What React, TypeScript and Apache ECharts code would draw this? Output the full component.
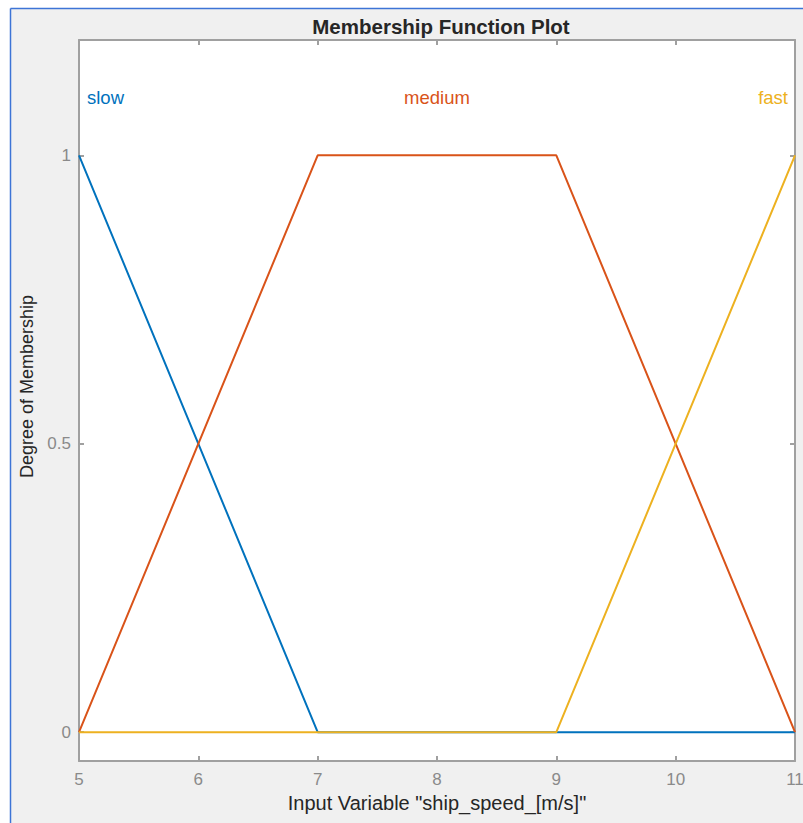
import React, { useEffect, useRef } from "react";
import * as echarts from "echarts";

const xTicks = [5, 6, 7, 8, 9, 10, 11];
const yTicks = [0, 0.5, 1];
const mfNames = ["slow", "medium", "fast"];
const slowPts = [[5, 1], [7, 0], [11, 0]];
const mediumPts = [[5, 0], [7, 1], [9, 1], [11, 0]];
const fastPts = [[5, 0], [9, 0], [11, 1]];
const labelPos = [[5, 1.1], [8, 1.1], [11, 1.1]];
const colors = ["#0072BD", "#D95319", "#EDB120"];

export default function App() {
  const ref = useRef<HTMLDivElement>(null);
  useEffect(() => {
    const chart = echarts.init(ref.current!, null, { renderer: "svg" });
    const font = "Liberation Sans, Arial, sans-serif";
    const axisColor = "#a0a0a0";
    const labelAligns = ["left", "center", "right"];
    const labelOffsets = [[8, 0], [0, 0], [-7, 0]];
    const seriesData = [slowPts, mediumPts, fastPts];
    const option: any = {
      animation: false,
      backgroundColor: "#f0f0f0",
      textStyle: { fontFamily: font },
      title: {
        text: "Membership Function Plot",
        left: 436,
        top: 11,
        textAlign: "center",
        textStyle: { fontSize: 20.5, fontWeight: "bold", color: "#262626", fontFamily: font },
      },
      graphic: [
        { type: "rect", shape: { x: 0, y: 0, width: 10, height: 823 }, style: { fill: "#ffffff" }, z: 100 },
        { type: "rect", shape: { x: 0, y: 0, width: 803, height: 8 }, style: { fill: "#ffffff" }, z: 100 },
        { type: "line", shape: { x1: 10.5, y1: 8.5, x2: 10.5, y2: 823 }, style: { stroke: "#3d74d6", lineWidth: 1.5 }, z: 101 },
        { type: "line", shape: { x1: 10.5, y1: 8.5, x2: 803, y2: 8.5 }, style: { stroke: "#3d74d6", lineWidth: 1.5 }, z: 101 },
      ],
      grid: {
        left: 79,
        top: 40,
        right: 8,
        bottom: 62,
        show: true,
        backgroundColor: "#ffffff",
        borderWidth: 0,
        containLabel: false,
        outerBoundsMode: "none",
      },
      xAxis: [
        {
          type: "value",
          min: 5,
          max: 11,
          interval: 1,
          position: "bottom",
          name: 'Input Variable "ship_speed_[m/s]"',
          nameLocation: "middle",
          nameGap: 32,
          nameTextStyle: { fontSize: 20, color: "#262626", fontFamily: font },
          axisLine: { show: true, onZero: false, lineStyle: { color: axisColor, width: 2 } },
          axisTick: { show: true, inside: true, length: 5, lineStyle: { color: axisColor, width: 2 } },
          axisLabel: { color: "#8a8a8a", fontSize: 17, margin: 10, fontFamily: font, hideOverlap: false },
          splitLine: { show: false },
        },
        {
          type: "value",
          min: 5,
          max: 11,
          interval: 1,
          position: "top",
          axisLine: { show: true, onZero: false, lineStyle: { color: axisColor, width: 2 } },
          axisTick: { show: true, inside: true, length: 5, lineStyle: { color: axisColor, width: 2 } },
          axisLabel: { show: false },
          splitLine: { show: false },
        },
      ],
      yAxis: [
        {
          type: "value",
          min: -0.05,
          max: 1.2,
          position: "left",
          name: "Degree of Membership",
          nameLocation: "middle",
          nameGap: 39,
          nameTextStyle: { fontSize: 18, color: "#262626", fontFamily: font, padding: [0, 0, 0, 28] },
          axisLine: { show: true, onZero: false, lineStyle: { color: axisColor, width: 2 } },
          axisTick: { show: true, inside: true, length: 5, customValues: yTicks, lineStyle: { color: axisColor, width: 2 } },
          axisLabel: { color: "#8a8a8a", fontSize: 17, margin: 8, customValues: yTicks, fontFamily: font },
          splitLine: { show: false },
        },
        {
          type: "value",
          min: -0.05,
          max: 1.2,
          position: "right",
          axisLine: { show: true, onZero: false, lineStyle: { color: axisColor, width: 2 } },
          axisTick: { show: true, inside: true, length: 5, customValues: yTicks, lineStyle: { color: axisColor, width: 2 } },
          axisLabel: { show: false },
          splitLine: { show: false },
        },
      ],
      series: seriesData.map((pts, i) => ({
        type: "line",
        name: mfNames[i],
        data: pts,
        xAxisIndex: 0,
        yAxisIndex: 0,
        symbol: "none",
        lineStyle: { color: colors[i], width: 2 },
        itemStyle: { color: colors[i] },
        z: 2 + i,
        markPoint: {
          symbol: "circle",
          symbolSize: 0,
          data: [
            {
              coord: labelPos[i],
              value: mfNames[i],
              label: {
                show: true,
                formatter: mfNames[i],
                position: "inside",
                align: labelAligns[i],
                offset: labelOffsets[i],
                color: colors[i],
                fontSize: 18.5,
                fontFamily: font,
              },
            },
          ],
        },
      })),
    };
    chart.setOption(option);
    return () => chart.dispose();
  }, []);
  return (
    <div
      ref={ref}
      style={{ position: "absolute", left: 0, top: 0, width: 803, height: 823 }}
    />
  );
}
